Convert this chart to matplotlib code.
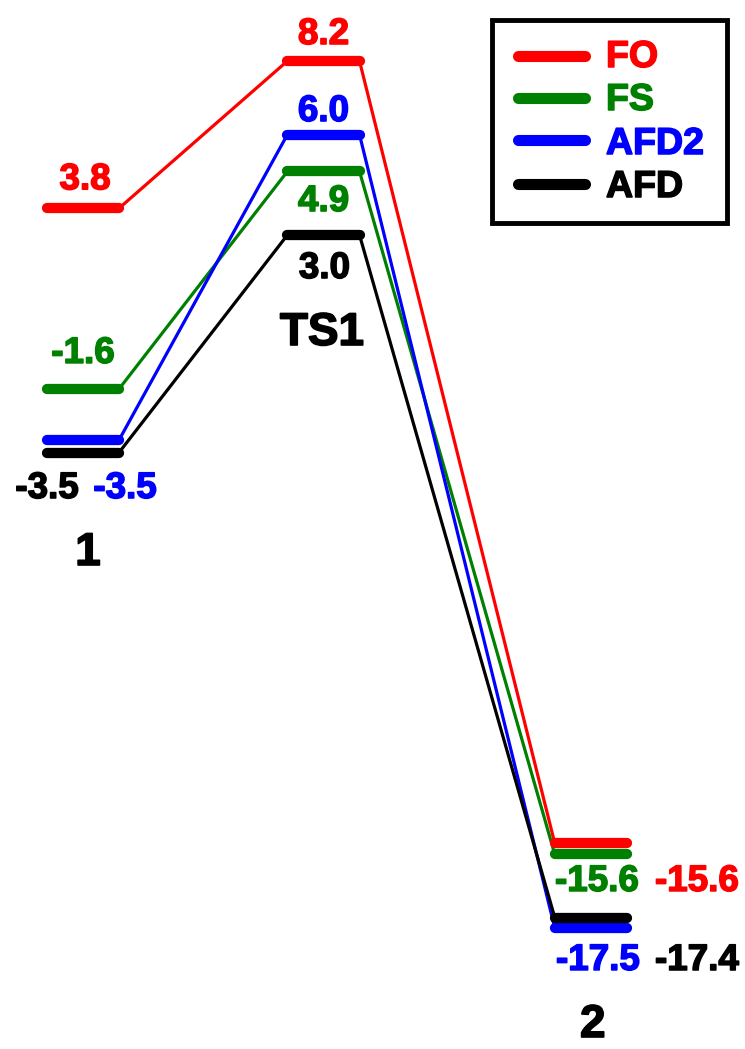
import matplotlib
matplotlib.use("Agg")
import matplotlib.pyplot as plt
import matplotlib.patheffects as pe
from matplotlib.lines import Line2D
from matplotlib.patches import Rectangle
from matplotlib.transforms import IdentityTransform

plt.rcParams["font.family"] = ["Liberation Sans", "DejaVu Sans"]
plt.rcParams["font.weight"] = "bold"

# Relative energies (kcal/mol) along the reaction path
states = ["1", "TS1", "2"]
series = ["FO", "FS", "AFD2", "AFD"]
colors = ["#ff0000", "#008000", "#0000ff", "#000000"]
fo = [3.8, 8.2, -15.6]
fs = [-1.6, 4.9, -15.6]
afd2 = [-3.5, 6.0, -17.5]
afd = [-3.5, 3.0, -17.4]
energies = [fo, fs, afd2, afd]

W, H = 745, 1049
fig = plt.figure(figsize=(W / 100, H / 100), dpi=100)
ax = fig.add_axes([0, 0, 1, 1])
ax.axis("off")

x_pos = [0.0, 1.0, 2.112]
half = 0.15
ax.set_xlim(-0.345, 2.753)
ax.set_ylim(-21.327, 10.024)

# small vertical display shifts (pixels, up) so coinciding levels stay visible
nudge = {("AFD2", 0): 12.5, ("FO", 2): 14.0, ("FS", 2): 3.0, ("AFD2", 2): -7.0}

# value label placement: (dx px from level centre, dy px downward from level)
label_off = {
    ("FO", 0): (2, -19), ("FS", 0): (0, -26), ("AFD2", 0): (42, 45.5), ("AFD", 0): (-36, 45.5),
    ("FO", 1): (0, -17), ("AFD2", 1): (0, -13.6), ("FS", 1): (0, 39.6), ("AFD", 1): (1, 43),
    ("FO", 2): (106, 33.6), ("FS", 2): (6, 33.6), ("AFD2", 2): (7, 49), ("AFD", 2): (106, 52.4),
}

to_disp = ax.transData.transform
to_data = ax.transData.inverted().transform


def heavy(col, w=1.1):
    return [pe.withStroke(linewidth=w, foreground=col)]


def level_point(x, v, dy):
    X, Y = to_disp((x, v))
    return to_data((X, Y + dy))


for name, vals, col in zip(series, energies, colors):
    ends = []
    for k, v in enumerate(vals):
        dy = nudge.get((name, k), 0.0)
        left = level_point(x_pos[k] - half, v, dy)
        right = level_point(x_pos[k] + half, v, dy)
        ends.append((left, right))
    # connectors between consecutive levels
    for k in range(len(vals) - 1):
        a = ends[k][1]
        b = ends[k + 1][0]
        ax.plot([a[0], b[0]], [a[1], b[1]], color=col, lw=2.3,
                solid_capstyle="round", zorder=2)
    # energy levels
    for k, (left, right) in enumerate(ends):
        ax.plot([left[0], right[0]], [left[1], right[1]], color=col, lw=7.4,
                solid_capstyle="round", zorder=3)
    # value labels
    for k, v in enumerate(vals):
        dx, down = label_off[(name, k)]
        X, Y = to_disp((x_pos[k], v))
        tx, ty = to_data((X + dx, Y - down))
        ax.text(tx, ty, f"{v:.1f}", color=col, fontsize=26.5, fontweight="bold",
                ha="center", va="baseline", zorder=4, path_effects=heavy(col))

# state names
state_base = [565, 345, 1037]
state_dx = [5, -1.5, 2]
for k, s in enumerate(states):
    X, _ = to_disp((x_pos[k], 0))
    tx, ty = to_data((X + state_dx[k], H - state_base[k]))
    ax.text(tx, ty, s, color="black", fontsize=33, fontweight="bold",
            ha="center", va="baseline", path_effects=heavy("black", 1.2))

# legend box
ident = IdentityTransform()
fig.add_artist(Rectangle((492, H - 223), 235, 203, transform=ident, fill=False,
                         edgecolor="black", lw=3.5, joinstyle="miter"))
leg_y = [56, 98, 140, 184]
leg_base = [67, 110, 154, 197]
for name, col, yc, yb in zip(series, colors, leg_y, leg_base):
    fig.add_artist(Line2D([518, 585], [H - yc, H - yc], transform=ident,
                          color=col, lw=8, solid_capstyle="round"))
    fig.text(606 / W, 1 - yb / H, name, color=col, fontsize=27,
             fontweight="bold", ha="left", va="baseline",
             path_effects=heavy(col))

fig.savefig("out.png", dpi=100)
